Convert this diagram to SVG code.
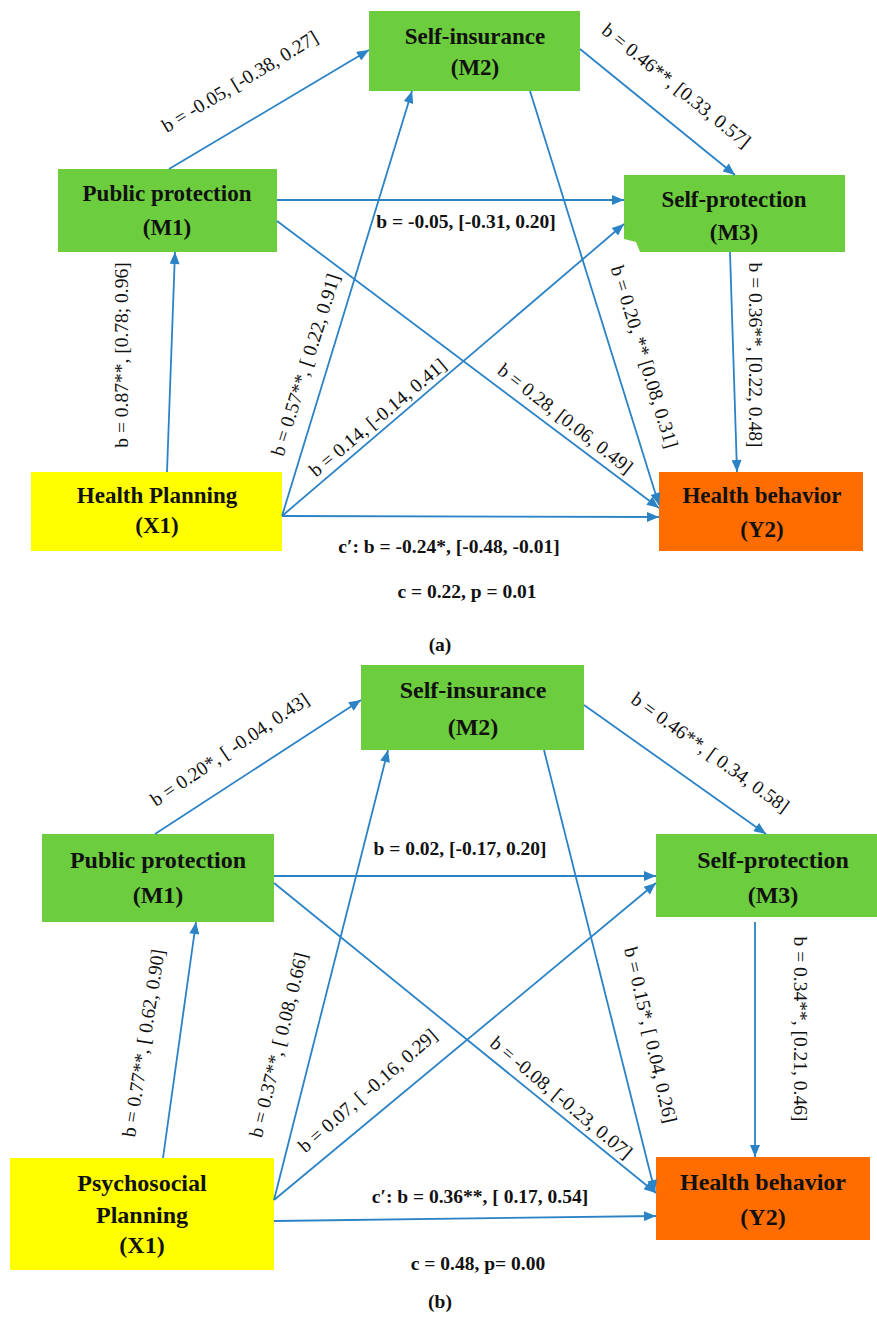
<svg xmlns="http://www.w3.org/2000/svg" width="877" height="1318" viewBox="0 0 877 1318">
<style>
.g{fill:#6ccd3e}
.y{fill:#ffff00}
.o{fill:#ff6c00}
.nt{font-family:'Liberation Serif','Times New Roman','DejaVu Serif',serif;font-weight:bold;font-size:23px;fill:#111;text-anchor:middle}
.nb{font-size:24px}
.el{font-family:'Liberation Serif','Times New Roman','DejaVu Serif',serif;font-size:19.5px;fill:#111;text-anchor:middle}
.eh{font-weight:bold}
.c line{stroke:#2b83c6;stroke-width:1.8;marker-end:url(#ah)}
</style>
<defs>
<marker id="ah" viewBox="0 0 12 10" refX="12" refY="5" markerWidth="13" markerHeight="10" markerUnits="userSpaceOnUse" orient="auto">
<path d="M0,0 L12,5 L0,10 z" fill="#2b83c6"/>
</marker>
</defs>
<rect width="877" height="1318" fill="#fff"/>

<!-- Panel (a) nodes -->
<g id="a-m2"><rect class="g" x="369" y="11" width="211" height="80"/><text class="nt" x="475" y="44">Self-insurance</text><text class="nt" x="475" y="75">(M2)</text></g>
<g id="a-m1"><rect class="g" x="58" y="169" width="219" height="83"/><text class="nt" x="167" y="201">Public protection</text><text class="nt" x="167" y="235">(M1)</text></g>
<g id="a-m3"><polygon class="g" points="624,175 845,175 845,252 640,252 636,242 624,239"/><text class="nt" x="734" y="207">Self-protection</text><text class="nt" x="734" y="240">(M3)</text></g>
<g id="a-x1"><rect class="y" x="31" y="472" width="251" height="79"/><text class="nt" x="157" y="503">Health Planning</text><text class="nt" x="157" y="533">(X1)</text></g>
<g id="a-y2"><rect class="o" x="659" y="472" width="204" height="79"/><text class="nt" x="762" y="503">Health behavior</text><text class="nt" x="762" y="537">(Y2)</text></g>

<!-- Panel (a) connectors -->
<g id="a-connectors" class="c">
<line x1="169" y1="169" x2="369" y2="50"/>
<line x1="277" y1="200" x2="624" y2="200"/>
<line x1="277" y1="221" x2="659" y2="508"/>
<line x1="167" y1="472" x2="175" y2="252"/>
<line x1="282" y1="516" x2="412" y2="91"/>
<line x1="282" y1="516" x2="624" y2="224"/>
<line x1="282" y1="516" x2="659" y2="517"/>
<line x1="580" y1="49" x2="735" y2="175"/>
<line x1="530" y1="91" x2="659" y2="505"/>
<line x1="730" y1="252" x2="737" y2="472"/>
</g>

<!-- Panel (a) labels -->
<g id="a-labels">
<text class="el" transform="translate(240,82) rotate(-31)" dy="6">b = -0.05, [-0.38, 0.27]</text>
<text class="el eh" x="466" y="228">b = -0.05, [-0.31, 0.20]</text>
<text class="el" transform="translate(676,86) rotate(39)" dy="6">b = 0.46**, [0.33, 0.57]</text>
<text class="el" transform="translate(122,355) rotate(-90)" dy="6">b = 0.87**, [0.78; 0.96]</text>
<text class="el" transform="translate(306,365) rotate(-72.5)" dy="6">b = 0.57**, [ 0.22, 0.91]</text>
<text class="el" transform="translate(378,418) rotate(-40)" dy="6">b = 0.14, [-0.14, 0.41]</text>
<text class="el" transform="translate(565,419) rotate(38)" dy="6">b = 0.28, [0.06, 0.49]</text>
<text class="el" transform="translate(644,357) rotate(73)" dy="6">b = 0.20, ** [0.08, 0.31]</text>
<text class="el" transform="translate(755,355) rotate(90)" dy="6">b = 0.36**, [0.22, 0.48]</text>
<text class="el eh" x="449" y="553">c′: b = -0.24*, [-0.48, -0.01]</text>
<text class="el eh" x="467" y="598">c = 0.22, p = 0.01</text>
<text class="el eh" x="440" y="651">(a)</text>
</g>

<!-- Panel (b) nodes -->
<g id="b-m2"><rect class="g" x="361" y="665" width="223" height="85"/><text class="nt nb" x="473" y="698">Self-insurance</text><text class="nt nb" x="473" y="735">(M2)</text></g>
<g id="b-m1"><rect class="g" x="42" y="834" width="232" height="88"/><text class="nt nb" x="158" y="868">Public protection</text><text class="nt nb" x="158" y="903">(M1)</text></g>
<g id="b-m3"><rect class="g" x="656" y="834" width="221" height="83"/><text class="nt nb" x="773" y="868">Self-protection</text><text class="nt nb" x="773" y="903">(M3)</text></g>
<g id="b-x1"><rect class="y" x="10" y="1158" width="264" height="112"/><text class="nt nb" x="142" y="1191">Psychosocial</text><text class="nt nb" x="142" y="1223">Planning</text><text class="nt nb" x="142" y="1253">(X1)</text></g>
<g id="b-y2"><rect class="o" x="656" y="1157" width="214" height="83"/><text class="nt nb" x="763" y="1190">Health behavior</text><text class="nt nb" x="763" y="1225">(Y2)</text></g>

<!-- Panel (b) connectors -->
<g id="b-connectors" class="c">
<line x1="155" y1="834" x2="361" y2="700"/>
<line x1="274" y1="876" x2="656" y2="876"/>
<line x1="274" y1="883" x2="656" y2="1193"/>
<line x1="163" y1="1158" x2="196" y2="922"/>
<line x1="274" y1="1200" x2="388" y2="750"/>
<line x1="274" y1="1200" x2="656" y2="883"/>
<line x1="274" y1="1221" x2="656" y2="1216"/>
<line x1="584" y1="705" x2="766" y2="834"/>
<line x1="544" y1="750" x2="655" y2="1192"/>
<line x1="755" y1="922" x2="755" y2="1157"/>
</g>

<!-- Panel (b) labels -->
<g id="b-labels">
<text class="el" transform="translate(230,750) rotate(-34)" dy="6">b = 0.20*, [ -0.04, 0.43]</text>
<text class="el eh" x="460" y="855">b = 0.02, [-0.17, 0.20]</text>
<text class="el" transform="translate(710,753) rotate(36)" dy="6">b = 0.46**, [ 0.34, 0.58]</text>
<text class="el" transform="translate(144,1043) rotate(-81)" dy="6">b = 0.77**, [ 0.62, 0.90]</text>
<text class="el" transform="translate(279,1045) rotate(-76)" dy="6">b = 0.37**, [ 0.08, 0.66]</text>
<text class="el" transform="translate(368,1091) rotate(-41)" dy="6">b = 0.07, [ -0.16, 0.29]</text>
<text class="el" transform="translate(561,1098) rotate(40)" dy="6">b = -0.08, [-0.23, 0.07]</text>
<text class="el" transform="translate(650,1035) rotate(77)" dy="6">b = 0.15*, [ 0.04, 0.26]</text>
<text class="el" transform="translate(800,1029) rotate(90)" dy="6">b = 0.34**, [0.21, 0.46]</text>
<text class="el eh" x="480" y="1203">c′: b = 0.36**, [ 0.17, 0.54]</text>
<text class="el eh" x="478" y="1270">c = 0.48, p= 0.00</text>
<text class="el eh" x="440" y="1308">(b)</text>
</g>
</svg>
